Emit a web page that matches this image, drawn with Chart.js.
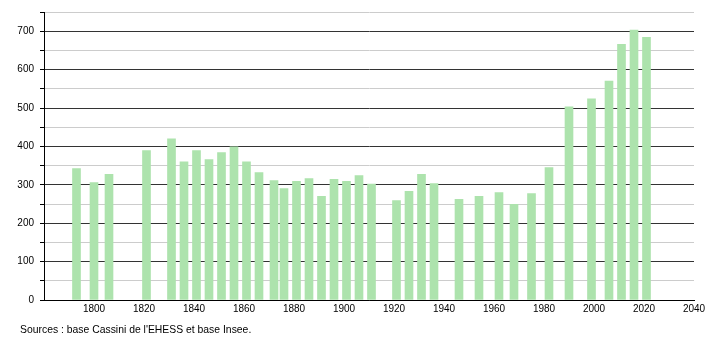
<!DOCTYPE html>
<html>
<head>
<meta charset="utf-8">
<script src="https://cdn.jsdelivr.net/npm/chart.js@4.4.0/dist/chart.umd.min.js"></script>
<style>
  body { margin: 0; background: #fff; }
  #wrap { position: relative; width: 710px; height: 340px; }
  #source {
    position: absolute; left: 20px; top: 324px;
    font: 10.4px "Liberation Sans", Arial, sans-serif; color: #000;
  }
</style>
</head>
<body>
<div id="wrap">
  <canvas id="popChart" width="710" height="340"></canvas>
  <div id="source">Sources : base Cassini de l'EHESS et base Insee.</div>
</div>
<script>
// census years and population
const years = [1793, 1800, 1806, 1821, 1831, 1836, 1841, 1846, 1851, 1856,
  1861, 1866, 1872, 1876, 1881, 1886, 1891, 1896, 1901, 1906, 1911,
  1921, 1926, 1931, 1936, 1946, 1954, 1962, 1968, 1975, 1982, 1990,
  1999, 2006, 2011, 2016, 2021];
const population = [342, 306, 327, 389, 420, 360, 389, 366, 384, 399,
  360, 332, 311, 290, 309, 316, 270, 314, 309, 324, 302,
  259, 283, 327, 303, 262, 270, 280, 249, 277, 345, 503,
  524, 570, 666, 703, 684];

const barData = years.map((y, i) => ({ x: y, y: population[i] }));

new Chart(document.getElementById("popChart"), {
  type: "bar",
  data: {
    datasets: [{
      data: barData,
      backgroundColor: "#ade3ad",
      barThickness: 8
    }]
  },
  options: {
    responsive: false,
    animation: false,
    layout: { padding: { left: 0, right: 16, top: 10, bottom: 0 } },
    plugins: {
      legend: { display: false },
      tooltip: { enabled: false }
    },
    scales: {
      x: {
        type: "linear",
        offset: false,
        min: 1780,
        max: 2040,
        grid: { display: false, drawTicks: false },
        border: { display: true, color: "#000", width: 1 },
        ticks: {
          stepSize: 20,
          padding: 3,
          color: "#000",
          font: { family: "Liberation Sans", size: 10 },
          maxRotation: 0,
          callback: v => (v === 1780 ? "" : v)
        },
        afterFit: s => { s.height = 40; }
      },
      y: {
        min: 0,
        max: 750,
        grid: {
          color: c => (c.tick.value % 100 === 0 ? "#333" : "#ccc"),
          tickColor: "#000",
          tickLength: 4
        },
        border: { display: true, color: "#000", width: 1 },
        ticks: {
          stepSize: 25,
          padding: 6,
          color: "#000",
          font: { family: "Liberation Sans", size: 10 },
          callback: v => (v % 100 === 0 ? v : "")
        },
        afterFit: s => { s.width = 44; }
      }
    }
  }
});
</script>
</body>
</html>
